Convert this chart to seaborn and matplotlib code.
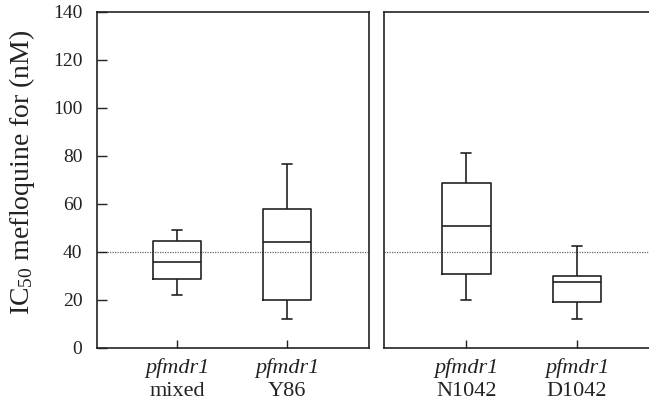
import matplotlib
matplotlib.use("Agg")
import matplotlib.pyplot as plt
import seaborn as sns
import pandas as pd

# Five-number summaries: min, Q1, median, Q3, max
groups_left = ["mixed", "Y86"]
groups_right = ["N1042", "D1042"]
mixed = [22.0, 28.7, 36.0, 44.7, 49.2]
y86 = [12.0, 20.0, 44.0, 58.0, 76.7]
n1042 = [20.0, 30.7, 50.7, 68.6, 81.4]
d1042 = [12.0, 19.3, 27.4, 30.0, 42.6]
gene = "pfmdr1"
yticks = [0, 20, 40, 60, 80, 100, 120, 140]
threshold = 40

sns.set_theme(style="white")
plt.rcParams["font.family"] = ["Liberation Serif", "DejaVu Serif"]
plt.rcParams["mathtext.fontset"] = "custom"
plt.rcParams["mathtext.rm"] = "Liberation Serif"
plt.rcParams["mathtext.it"] = "Liberation Serif:italic"

ink = "#222222"
W, H = 649, 404
fig = plt.figure(figsize=(W / 100, H / 100), dpi=100)
ax1 = fig.add_axes([97 / W, 56 / H, 272 / W, 336 / H])
ax2 = fig.add_axes([384 / W, 56 / H, 266 / W, 336 / H])

df_left = pd.DataFrame({"group": ["mixed"] * 5 + ["Y86"] * 5, "ic50": mixed + y86})
df_right = pd.DataFrame({"group": ["N1042"] * 5 + ["D1042"] * 5, "ic50": n1042 + d1042})

for ax, df, order, xlim in [(ax1, df_left, groups_left, (-0.73, 1.745)),
                            (ax2, df_right, groups_right, (-0.745, 1.66))]:
    sns.boxplot(data=df, x="group", y="ic50", order=order, ax=ax, whis=(0, 100),
                width=0.44, fill=False, color=ink, linecolor=ink, linewidth=1.2,
                showfliers=False, capwidths=0.09)
    ax.axhline(threshold, color="#666666", lw=0.9, ls=(0, (1, 1)), zorder=0)
    ax.set_xlim(*xlim)
    ax.set_ylim(0, 140)
    ax.set_xlabel("")
    ax.set_ylabel("")
    ax.set_xticks(range(len(order)))
    ax.set_xticklabels([""] * len(order))
    ax.tick_params(axis="x", direction="in", length=6, width=1, color=ink, bottom=True)
    for sp in ax.spines.values():
        sp.set_color(ink)
        sp.set_linewidth(1.2)
    for i, name in enumerate(order):
        ax.annotate(gene, xy=(i, 0), xycoords=("data", "axes fraction"),
                    xytext=(0, -20), textcoords="offset pixels", ha="center", va="center",
                    fontsize=16, style="italic", color=ink)
        ax.annotate(name, xy=(i, 0), xycoords=("data", "axes fraction"),
                    xytext=(0, -44), textcoords="offset pixels", ha="center", va="center",
                    fontsize=16, color=ink)

ax1.set_yticks(yticks)
ax1.set_yticklabels([str(v) for v in yticks], fontsize=14, color=ink)
ax1.tick_params(axis="y", direction="in", length=7, width=1, color=ink, left=True, pad=10.5)
ax2.set_yticks([])
ax2.spines["right"].set_visible(False)

fig.text(22 / W, 1 - 172 / H, "IC$_{50}$ mefloquine for (nM)", rotation=90,
         ha="center", va="center", fontsize=20, color=ink)

fig.savefig("out.png", dpi=100)
